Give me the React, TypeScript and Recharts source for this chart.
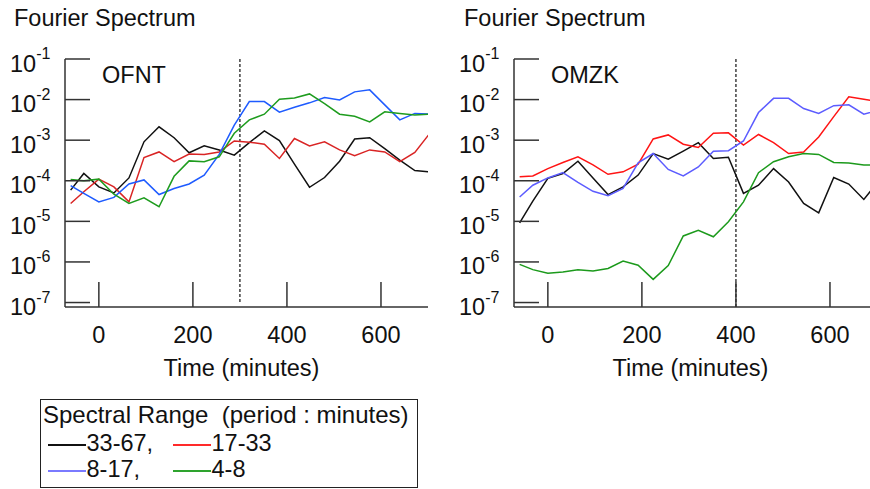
import React from "react";
import { Legend, Line, LineChart, ReferenceLine, XAxis, YAxis } from "recharts";

const FONT = "'Liberation Sans', Arial, Helvetica, sans-serif";

// sample times (minutes)
const TIMES = [-60, -32, 0, 32, 64, 96, 128, 160, 192, 224, 256, 288, 320, 352, 384, 416, 448, 480, 512, 544, 576, 608, 640, 672, 704];

// spectral power, stored as log10 of the value
const OFNT_33_67 = [-4.23, -3.82, -4.15, -4.3, -3.93, -3.04, -2.67, -2.94, -3.31, -3.14, -3.24, -3.37, -3.06, -2.77, -3.01, -3.59, -4.16, -3.92, -3.52, -2.97, -2.94, -3.21, -3.49, -3.75, -3.78];
const OFNT_17_33 = [-4.56, -4.27, -3.96, -4.15, -4.52, -3.43, -3.29, -3.53, -3.34, -3.35, -3.29, -3.02, -3.05, -3.1, -3.45, -2.96, -3.14, -3.04, -3.24, -3.38, -3.24, -3.29, -3.53, -3.3, -2.83];
const OFNT_8_17 = [-4.12, -4.31, -4.52, -4.41, -4.08, -3.98, -4.34, -4.19, -4.08, -3.86, -3.35, -2.63, -2.05, -2.05, -2.31, -2.19, -2.08, -1.95, -2.01, -1.81, -1.76, -2.13, -2.5, -2.34, -2.36];
const OFNT_4_8 = [-3.97, -4.0, -3.96, -4.33, -4.56, -4.42, -4.64, -3.89, -3.51, -3.53, -3.41, -2.83, -2.5, -2.36, -1.99, -1.96, -1.86, -2.1, -2.36, -2.41, -2.55, -2.3, -2.34, -2.38, -2.36];

const OMZK_33_67 = [-5.04, -4.5, -3.94, -3.82, -3.52, -3.93, -4.34, -4.15, -3.86, -3.33, -3.47, -3.27, -3.06, -3.45, -3.42, -4.31, -4.11, -3.7, -4.03, -4.56, -4.79, -3.92, -4.08, -4.46, -4.0];
const OMZK_17_33 = [-3.9, -3.88, -3.7, -3.55, -3.41, -3.61, -3.84, -3.78, -3.59, -2.97, -2.87, -3.1, -3.18, -2.83, -2.82, -3.12, -2.86, -3.06, -3.33, -3.29, -2.92, -2.42, -1.93, -1.99, -2.06];
const OMZK_8_17 = [-4.4, -4.11, -3.93, -3.8, -4.04, -4.26, -4.37, -4.19, -3.56, -3.33, -3.72, -3.88, -3.66, -3.27, -3.26, -3.02, -2.32, -1.97, -1.97, -2.22, -2.34, -2.15, -2.13, -2.36, -2.26];
const OMZK_4_8 = [-6.06, -6.19, -6.28, -6.25, -6.19, -6.22, -6.16, -5.98, -6.08, -6.43, -6.09, -5.36, -5.22, -5.38, -5.01, -4.52, -3.8, -3.53, -3.41, -3.33, -3.35, -3.55, -3.56, -3.61, -3.61];

const RANGES = ["33-67", "17-33", "8-17", "4-8"];
const Y_TICKS = [1e-1, 1e-2, 1e-3, 1e-4, 1e-5, 1e-6, 1e-7];
const X_TICKS = [0, 200, 400, 600];

const OFNT_COLORS = ["#111111", "#d92424", "#1e5bff", "#1e9c1e"];
const OMZK_COLORS = ["#111111", "#ff1414", "#5c5cff", "#1c9a1c"];
const LEGEND_COLORS = ["#111111", "#ff2a2a", "#7a7aff", "#2ea32e"];

const AXIS_X = 65;
const PLOT_BOTTOM = 307;

function buildRows(series: number[][]) {
  return TIMES.map((t, i) => {
    const row: Record<string, number> = { t };
    RANGES.forEach((r, k) => {
      row[r] = 10 ** series[k][i];
    });
    return row;
  });
}

const ofntData = buildRows([OFNT_33_67, OFNT_17_33, OFNT_8_17, OFNT_4_8]);
const omzkData = buildRows([OMZK_33_67, OMZK_17_33, OMZK_8_17, OMZK_4_8]);

function PowerTick(props: any) {
  const { y, payload } = props;
  const exp = Math.round(Math.log10(payload.value));
  return (
    <g>
      <line x1={AXIS_X} x2={AXIS_X + 25} y1={y} y2={y} stroke="#333" strokeWidth={1.5} />
      <text x={AXIS_X - 55} y={y + 12.5} fontSize={23.5} fill="#111" fontFamily={FONT}>
        10
        <tspan dy={-12.5} fontSize={16}>
          {String(exp)}
        </tspan>
      </text>
    </g>
  );
}

function TimeTick(props: any) {
  const { x, payload } = props;
  return (
    <g>
      <line x1={x} x2={x} y1={PLOT_BOTTOM} y2={PLOT_BOTTOM - 25} stroke="#333" strokeWidth={1.5} />
      <text x={x} y={PLOT_BOTTOM + 36} textAnchor="middle" fontSize={23.5} fill="#111" fontFamily={FONT}>
        {payload.value}
      </text>
    </g>
  );
}

function SpectralLegend() {
  const row = (i: number, left: number, top: number, comma: boolean) => (
    <React.Fragment key={i}>
      <div style={{ position: "absolute", left, top, width: 38, height: 1.6, background: LEGEND_COLORS[i] }} />
      <div style={{ position: "absolute", left: left + 39, top: top - 12, lineHeight: "23px", whiteSpace: "pre" }}>
        {RANGES[i] + (comma ? "," : "")}
      </div>
    </React.Fragment>
  );
  return (
    <div
      style={{
        position: "relative",
        width: 378,
        height: 89,
        boxSizing: "border-box",
        border: "1.5px solid #222",
        background: "#fff",
        fontFamily: FONT,
        fontSize: 23.5,
        color: "#111",
      }}
    >
      <div style={{ position: "absolute", left: 2, top: 3, fontSize: 24, lineHeight: "24px", whiteSpace: "pre" }}>
        Spectral Range  (period : minutes)
      </div>
      {row(0, 6.5, 44, true)}
      {row(1, 131.5, 44, false)}
      {row(2, 6.5, 70, true)}
      {row(3, 131.5, 70, false)}
    </div>
  );
}

function Panel({
  left,
  data,
  colors,
  name,
  marker,
  markerToAxis,
  withLegend,
}: {
  left: number;
  data: Record<string, number>[];
  colors: string[];
  name: string;
  marker: number;
  markerToAxis: boolean;
  withLegend: boolean;
}) {
  return (
    <div style={{ position: "absolute", left, top: 0 }}>
      <div
        style={{
          position: "absolute",
          left: left === 0 ? 14 : 15,
          top: 7,
          fontSize: 23.5,
          lineHeight: "23.5px",
          whiteSpace: "pre",
          color: "#111",
        }}
      >
        Fourier Spectrum
      </div>
      <div style={{ position: "absolute", left: AXIS_X + 37, top: 63.5, fontSize: 23.5, lineHeight: "23px", color: "#111", zIndex: 2 }}>
        {name}
      </div>
      <LineChart width={440} height={489} data={data} margin={{ top: 59, right: 12, bottom: 0, left: 0 }}>
        <XAxis
          type="number"
          dataKey="t"
          domain={[-72, 700]}
          allowDataOverflow
          ticks={X_TICKS}
          tickLine={false}
          tickSize={0}
          tickMargin={0}
          tick={(p: any) => <TimeTick {...p} />}
          axisLine={{ stroke: "#333", strokeWidth: 1.5 }}
          height={182}
          label={{
            value: "Time (minutes)",
            position: "insideBottom",
            offset: 113,
            dx: -5,
            fontSize: 23.5,
            fill: "#111",
            fontFamily: FONT,
          }}
        />
        <YAxis
          type="number"
          scale="log"
          domain={[10 ** -7.11, 0.1]}
          allowDataOverflow
          ticks={Y_TICKS}
          width={AXIS_X}
          tickLine={false}
          tickSize={0}
          tickMargin={0}
          tick={(p: any) => <PowerTick {...p} />}
          axisLine={{ stroke: "#333", strokeWidth: 1.5 }}
        />
        {markerToAxis ? (
          <ReferenceLine x={marker} stroke="#222" strokeWidth={1.3} strokeDasharray="3 2" />
        ) : (
          <ReferenceLine
            segment={[
              { x: marker, y: 0.1 },
              { x: marker, y: 1e-7 },
            ]}
            stroke="#222"
            strokeWidth={1.3}
            strokeDasharray="3 2"
          />
        )}
        {RANGES.map((r, k) => (
          <Line
            key={r}
            type="linear"
            dataKey={r}
            name={r}
            stroke={colors[k]}
            strokeWidth={1.5}
            dot={false}
            isAnimationActive={false}
          />
        ))}
        {withLegend && (
          <Legend
            layout="horizontal"
            verticalAlign="middle"
            align="center"
            content={() => <SpectralLegend />}
            wrapperStyle={{ position: "absolute", left: 40, top: 399, width: 378, height: 89 }}
          />
        )}
      </LineChart>
    </div>
  );
}

export default function App() {
  return (
    <div
      style={{
        position: "absolute",
        left: 0,
        top: 0,
        width: 870,
        height: 489,
        overflow: "hidden",
        background: "#fff",
        fontFamily: FONT,
      }}
    >
      <Panel left={0} data={ofntData} colors={OFNT_COLORS} name="OFNT" marker={300} markerToAxis={false} withLegend />
      <Panel left={449} data={omzkData} colors={OMZK_COLORS} name="OMZK" marker={400} markerToAxis withLegend={false} />
    </div>
  );
}
